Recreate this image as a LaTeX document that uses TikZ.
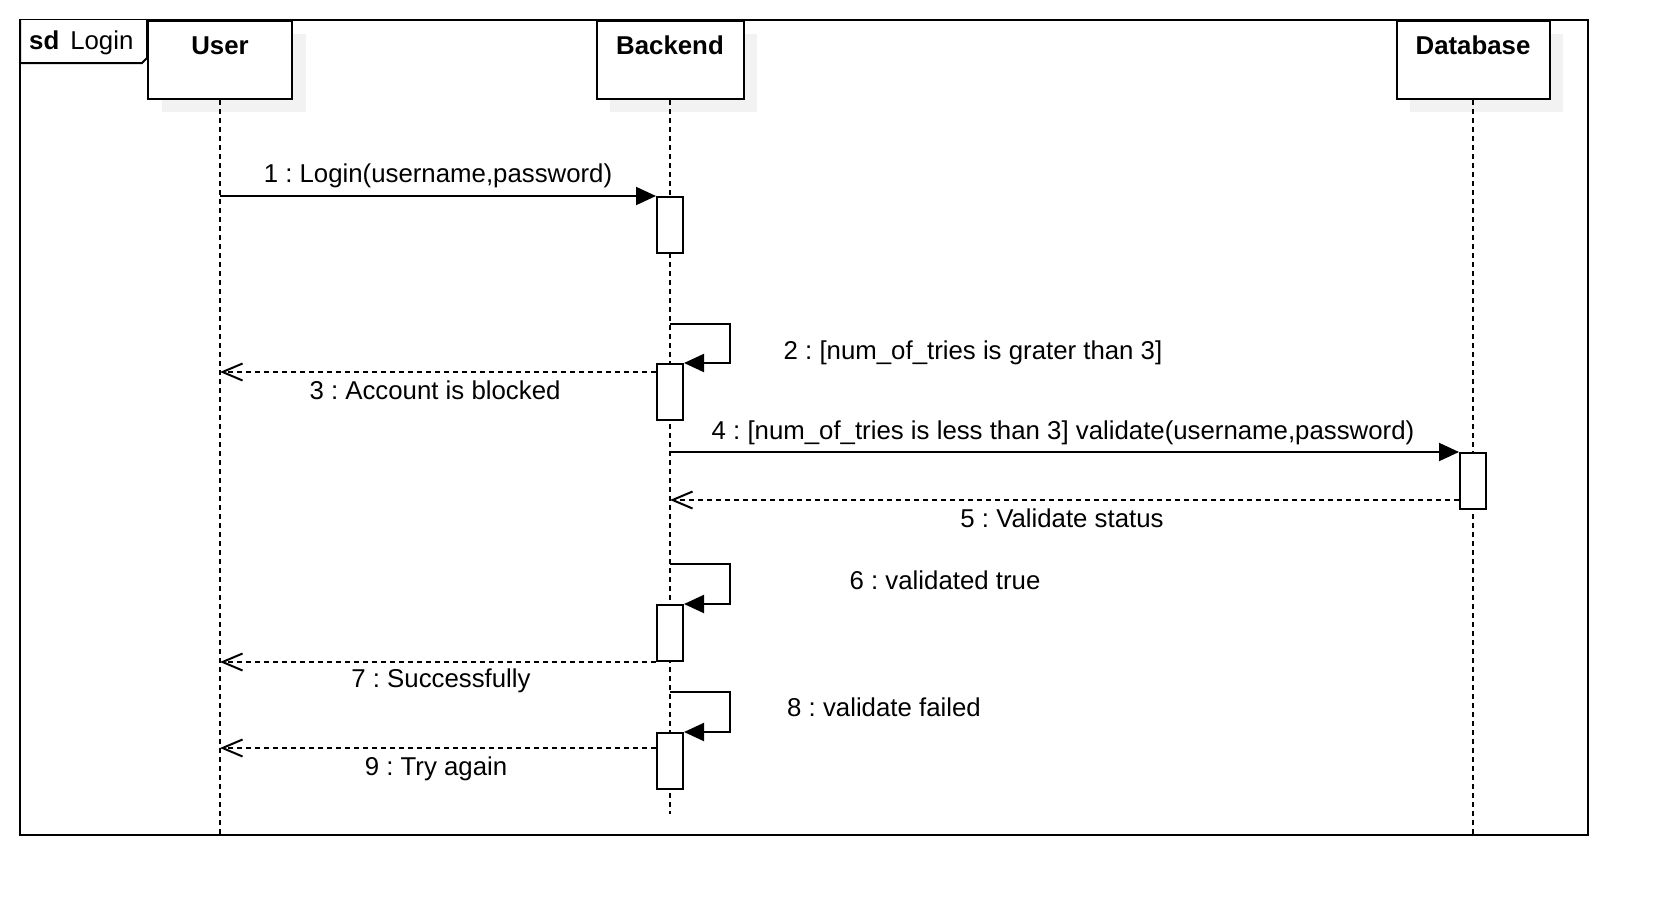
\documentclass[tikz,border=0pt]{standalone}
\usepackage{fontspec}
\setmainfont{Liberation Sans}
\usetikzlibrary{arrows.meta}
\frenchspacing
\begin{document}
\begin{tikzpicture}[x=1pt,y=-1pt,
  lw/.style={line width=2pt},
  headbox/.style={draw, line width=2pt, fill=white, minimum height=78pt, inner xsep=0pt, inner ysep=0pt,
    anchor=north, font=\fontsize{25.8}{30}\selectfont\bfseries, text height=33.2pt, text depth=44.8pt},
  shadowbox/.style={fill=black!5, draw=none},
  lifeline/.style={line width=2pt, dash pattern=on 5pt off 4pt},
  act/.style={draw, line width=2pt, fill=white, minimum width=26pt, minimum height=56pt, inner sep=0pt, anchor=north},
  msg/.style={line width=2pt, -{Triangle[length=20pt,width=18pt]}},
  ret/.style={line width=2pt, dash pattern=on 5pt off 4pt, -{Straight Barb[length=20pt,width=17pt]}},
  lbl/.style={font=\fontsize{25.8}{30}\selectfont, inner sep=0pt, text height=18.8pt, text depth=0pt}
]
\useasboundingbox (0,0) rectangle (1668,916);
% frame
\draw[lw] (20,20) rectangle (1588,835);
\draw[lw, fill=white] (20,20) -- (20,63) -- (142,63) -- (147,58) -- (147,20);
\node[lbl, anchor=west] (sd) at (29,40) {\textbf{sd}\hspace{11pt}Login};
% shadows
\fill[shadowbox] (162,34) rectangle (306,112);
\fill[shadowbox] (610,34) rectangle (757,112);
\fill[shadowbox] (1410,34) rectangle (1563,112);
% heads
\node[headbox, minimum width=144pt] (user) at (220,20) {User};
\node[headbox, minimum width=147pt] (backend) at (670,20) {Backend};
\node[headbox, minimum width=153pt] (db) at (1473,20) {Database};
\coordinate (bot) at (0,835);
\coordinate (bbot) at (0,814);
% lifelines
\draw[lifeline] (user.south) -- (user.south |- bot);
\draw[lifeline] (backend.south) -- (backend.south |- bbot);
\draw[lifeline] (db.south) -- (db.south |- bot);
% activations
\node[act] (a1) at (670,196) {};
\node[act] (a2) at (670,363) {};
\node[act] (a5) at (1473,452) {};
\node[act] (a3) at (670,604) {};
\node[act] (a4) at (670,732) {};
% helper coordinates
\coordinate (s2a) at (670,324); \coordinate (s2b) at (730,324); \coordinate (s2c) at (730,363);
\coordinate (s6a) at (670,564); \coordinate (s6b) at (730,564); \coordinate (s6c) at (730,604);
\coordinate (s8a) at (670,692); \coordinate (s8b) at (730,692); \coordinate (s8c) at (730,732);
\coordinate (y3) at (0,372);
\coordinate (y5) at (0,500);
\coordinate (y9) at (0,748);
% messages
\draw[msg] (user.south |- a1.north) -- (a1.north west);
\draw[msg] (s2a) -- (s2b) -- (s2c) -- (a2.north east);
\draw[ret] (a2.west |- y3) -- (user.south |- y3);
\draw[msg] (backend.south |- a5.north) -- (a5.north west);
\draw[ret] (a5.west |- y5) -- (backend.south |- y5);
\draw[msg] (s6a) -- (s6b) -- (s6c) -- (a3.north east);
\draw[ret] (a3.south west) -- (user.south |- a3.south);
\draw[msg] (s8a) -- (s8b) -- (s8c) -- (a4.north east);
\draw[ret] (a4.west |- y9) -- (user.south |- y9);
% labels
\node[lbl] (l1) at (438,173) {1 : Login(username,password)};
\node[lbl] (l2) at (973,350) {2 : [num\_of\_tries is grater than 3]};
\node[lbl] (l3) at (435,390) {3 : Account is blocked};
\node[lbl] (l4) at (1063,430) {4 : [num\_of\_tries is less than 3] validate(username,password)};
\node[lbl] (l5) at (1062,518) {5 : Validate status};
\node[lbl] (l6) at (945,580) {6 : validated true};
\node[lbl] (l7) at (441,678) {7 : Successfully};
\node[lbl] (l8) at (884,707) {8 : validate failed};
\node[lbl] (l9) at (436,766) {9 : Try again};
\end{tikzpicture}
\end{document}
